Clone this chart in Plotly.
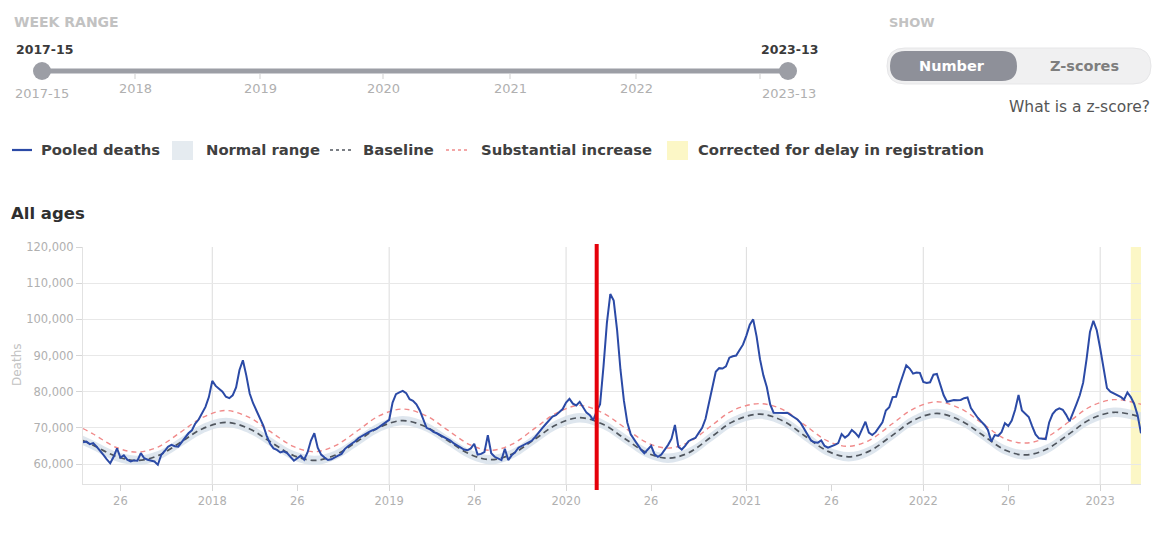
import datetime as dt
import plotly.graph_objects as go

# ------------------------------------------------------------------ data
# Pooled weekly deaths (all ages), ISO weeks 2017-15 .. 2023-13
deaths_2017 = [66000, 66200, 65500, 65800, 64800, 63800, 62500, 61300, 60200, 62000,
               64300, 61800, 62400, 61200, 60700, 61000, 60900, 63000, 61600, 61200,
               61000, 60700, 59800, 62500, 63600, 64800, 65300, 64900, 64800, 66000,
               67200, 68500, 69300, 71200, 72300, 74000, 75800, 78500]
deaths_2018 = [83000, 81600, 80700, 80000, 78600, 78200, 79000, 81200, 86000, 88700,
               84500, 79500, 76800, 74800, 72500, 70600, 67800, 65600, 64300, 63900,
               63200, 63500, 63000, 61800, 60900, 61600, 62300, 61200, 63200, 66500,
               68500, 64500, 62600, 61800, 61100, 61300, 61700, 62300, 62800, 64200,
               65000, 65600, 66300, 67200, 67800, 68400, 68800, 69300, 69600, 70200,
               70800, 71500]
deaths_2019 = [72200, 77000, 79300, 79800, 80200, 79600, 77900, 77500, 76500, 74800,
               72200, 70000, 69600, 68900, 68500, 68000, 67600, 67200, 66500, 65700,
               65100, 64500, 64000, 63800, 64300, 65600, 62600, 62800, 63300, 68000,
               63000, 62000, 61600, 61100, 64200, 61100, 62400, 63200, 64500, 65000,
               65600, 66000, 66500, 67600, 68600, 69900, 71000, 72000, 73100, 73500,
               74300, 75200]
deaths_2020 = [77000, 78000, 76700, 76200, 77200, 75500, 74200, 73500, 72100, 74600,
               76500, 87000, 99000, 107000, 105200, 97000, 86000, 77500, 71500, 68200,
               66800, 65200, 64000, 63000, 64000, 65000, 62700, 62000, 62600, 63900,
               65300, 67000, 70800, 64800, 64000, 65000, 66300, 66800, 67200, 68600,
               70000, 72500, 77000, 82000, 85500, 86500, 86400, 87000, 89400, 89800,
               90000, 91500, 93000]
deaths_2021 = [95500, 98500, 100000, 95300, 89000, 84500, 81300, 76500, 74200, 74100,
               74000, 74100, 74200, 73600, 73000, 72300, 71300, 69800, 68300, 66500,
               66000, 65900, 66500, 65000, 64500, 64800, 65300, 65800, 68300, 67300,
               68000, 69400, 68600, 67500, 69500, 71700, 68700, 68000, 68800, 70000,
               71500, 74800, 75700, 78500, 78600, 81700, 84500, 87300, 86400, 85000,
               85300, 85200]
deaths_2022 = [82700, 82400, 82600, 84700, 84900, 81600, 79000, 77200, 77500, 77700,
               77600, 77700, 78200, 78400, 75500, 74000, 72800, 71800, 70800, 69400,
               66200, 68000, 67800, 68800, 71300, 70500, 72000, 75000, 79100, 74800,
               74000, 73000, 70500, 68200, 67100, 67000, 66900, 71500, 73800, 74900,
               75400, 75000, 73600, 71800, 74000, 76500, 79000, 82500, 89000, 96500,
               99600, 97000]
deaths_2023 = [92000, 86500, 81000, 80000, 79500, 79200, 78600, 77800, 79800, 78500,
               76600, 73500, 68500]
first_week = {2017: 15, 2018: 1, 2019: 1, 2020: 1, 2021: 1, 2022: 1, 2023: 1}

# Baseline, normal range and "substantial increase" threshold (read at sample weeks)
base_weeks = ["2017-15", "2017-18", "2017-25", "2017-31", "2017-37", "2017-44", "2017-50",
              "2018-05", "2018-12", "2018-18", "2018-25", "2018-31", "2018-37", "2018-44", "2018-50",
              "2019-05", "2019-12", "2019-18", "2019-25", "2019-31", "2019-37", "2019-44", "2019-50",
              "2020-05", "2020-12", "2020-18", "2020-25", "2020-31", "2020-37", "2020-44", "2020-50",
              "2021-05", "2021-12", "2021-18", "2021-25", "2021-31", "2021-37", "2021-44", "2021-50",
              "2022-05", "2022-12", "2022-18", "2022-25", "2022-31", "2022-37", "2022-44", "2022-50",
              "2023-05", "2023-13"]
baseline = [66500, 65200, 62000, 61000, 62300, 66200, 69700,
            71500, 69700, 66200, 62300, 61000, 62400, 66500, 70100,
            72000, 70200, 66600, 62600, 61200, 62700, 67000, 70800,
            72800, 70900, 67200, 63000, 61600, 63100, 67700, 71700,
            73800, 71800, 67900, 63500, 62000, 63500, 68000, 72000,
            74000, 72000, 68300, 63900, 62500, 64000, 68400, 72300,
            74300, 73000]
normal_low = [65200, 63900, 60700, 59700, 61000, 64900, 68400,
              70200, 68400, 64900, 61000, 59700, 61100, 65200, 68800,
              70700, 68900, 65300, 61300, 59900, 61400, 65700, 69500,
              71500, 69600, 65900, 61700, 60300, 61800, 66400, 70400,
              72500, 70500, 66600, 62200, 60700, 62200, 66700, 70700,
              72700, 70700, 67000, 62600, 61200, 62700, 67100, 71000,
              73000, 71700]
normal_high = [67800, 66500, 63300, 62300, 63600, 67500, 71000,
               72800, 71000, 67500, 63600, 62300, 63700, 67800, 71400,
               73300, 71500, 67900, 63900, 62500, 64000, 68300, 72100,
               74100, 72200, 68500, 64300, 62900, 64400, 69000, 73000,
               75100, 73100, 69200, 64800, 63300, 64800, 69300, 73300,
               75300, 73300, 69600, 65200, 63800, 65300, 69700, 73600,
               75600, 74300]
substantial = [69800, 68300, 64500, 63300, 64700, 69000, 72800,
               74800, 72800, 69000, 64800, 63400, 65000, 69400, 73300,
               75200, 73300, 69500, 65200, 63800, 65400, 70000, 74000,
               76200, 74000, 70200, 65800, 64400, 66000, 70800, 74800,
               76700, 74900, 70900, 66300, 64900, 66500, 71200, 75200,
               77200, 75300, 71500, 67000, 65800, 67300, 71800, 75800,
               77800, 76500]

corrected_weeks = ["2023-10", "2023-13"]   # corrected for delay in registration
marker_week = "2020-10"                     # red vertical marker
range_weeks = ["2017-15", "2023-13"]

tick_weeks = ["2017-26", "2018-01", "2018-26", "2019-01", "2019-26", "2020-01",
              "2020-26", "2021-01", "2021-26", "2022-01", "2022-26", "2023-01"]
tick_text = ["26", "2018", "26", "2019", "26", "2020", "26", "2021", "26", "2022", "26", "2023"]
year_grid_weeks = ["2018-01", "2019-01", "2020-01", "2021-01", "2022-01", "2023-01"]
y_ticks = [60000, 70000, 80000, 90000, 100000, 110000, 120000]

slider_years = ["2018", "2019", "2020", "2021", "2022"]


def iso(label):
    y, w = label.split("-")
    return dt.date.fromisocalendar(int(y), int(w), 1).isoformat()


week_labels, deaths = [], []
for yr, vals in [(2017, deaths_2017), (2018, deaths_2018), (2019, deaths_2019),
                 (2020, deaths_2020), (2021, deaths_2021), (2022, deaths_2022),
                 (2023, deaths_2023)]:
    for i, v in enumerate(vals):
        week_labels.append(f"{yr}-{first_week[yr] + i:02d}")
        deaths.append(v)

x_deaths = [iso(w) for w in week_labels]
x_base = [iso(w) for w in base_weeks]

# ------------------------------------------------------------------ style
BLUE = "#2b4aa6"
UI_FONT = "DejaVu Sans"
AX_FONT = "DejaVu Sans"
W, H = 1154, 542
L, T, PW, PH = 83, 247, 1058, 237


def fx(x):
    return (x - L) / PW


def fy(y):
    return (T + PH - y) / PH


shapes, annots = [], []


def text(x, y, s, size, color, weight=400, xanchor="left", family=UI_FONT):
    annots.append(dict(x=fx(x), y=fy(y), xref="paper", yref="paper", text=s,
                       showarrow=False, xanchor=xanchor, yanchor="middle",
                       font=dict(size=size, color=color, family=family, weight=weight)))


def line(x0, y0, x1, y1, color, width, dash="solid"):
    shapes.append(dict(type="line", xref="paper", yref="paper", x0=fx(x0), x1=fx(x1),
                       y0=fy(y0), y1=fy(y1), line=dict(color=color, width=width, dash=dash)))


def rect(x0, y0, x1, y1, fill):
    shapes.append(dict(type="rect", xref="paper", yref="paper", x0=fx(x0), x1=fx(x1),
                       y0=fy(y0), y1=fy(y1), fillcolor=fill, line=dict(width=0)))


def circle(cx, cy, r, fill):
    shapes.append(dict(type="circle", xref="paper", yref="paper", x0=fx(cx - r), x1=fx(cx + r),
                       y0=fy(cy + r), y1=fy(cy - r), fillcolor=fill, line=dict(width=0)))


def rrect(x0, y0, x1, y1, r, fill, lc=None):
    def p(x, y):
        return f"{fx(x):.6f},{fy(y):.6f}"
    path = (f"M{p(x0 + r, y0)} L{p(x1 - r, y0)} Q{p(x1, y0)} {p(x1, y0 + r)} "
            f"L{p(x1, y1 - r)} Q{p(x1, y1)} {p(x1 - r, y1)} L{p(x0 + r, y1)} "
            f"Q{p(x0, y1)} {p(x0, y1 - r)} L{p(x0, y0 + r)} Q{p(x0, y0)} {p(x0 + r, y0)} Z")
    shapes.append(dict(type="path", xref="paper", yref="paper", path=path, fillcolor=fill,
                       line=dict(width=1 if lc else 0, color=lc or fill)))


# ------------------------------------------------------------------ traces
fig = go.Figure()
fig.add_trace(go.Scatter(x=x_base, y=normal_low, mode="lines", line=dict(width=0, shape="spline"),
                         hoverinfo="skip", showlegend=False))
fig.add_trace(go.Scatter(x=x_base, y=normal_high, mode="lines", line=dict(width=0, shape="spline"),
                         fill="tonexty", fillcolor="rgba(214,224,234,0.8)", name="Normal range",
                         showlegend=False))
fig.add_trace(go.Scatter(x=x_base, y=substantial, mode="lines", name="Substantial increase",
                         line=dict(color="#f08a8a", width=1.4, dash="5px,4px", shape="spline"),
                         showlegend=False))
fig.add_trace(go.Scatter(x=x_base, y=baseline, mode="lines", name="Baseline",
                         line=dict(color="#50565e", width=1.7, dash="6px,4px", shape="spline"),
                         showlegend=False))
fig.add_trace(go.Scatter(x=x_deaths, y=deaths, mode="lines", name="Pooled deaths",
                         line=dict(color=BLUE, width=2), showlegend=False))

# plot-area shapes
shapes.append(dict(type="rect", xref="x", yref="paper", x0=iso(corrected_weeks[0]),
                   x1=iso(corrected_weeks[1]), y0=0, y1=1, fillcolor="#fcf7c6",
                   line=dict(width=0), layer="below"))
for w in year_grid_weeks:
    shapes.append(dict(type="line", xref="x", yref="paper", x0=iso(w), x1=iso(w), y0=0, y1=1,
                       line=dict(color="#dcdcdc", width=1), layer="below"))
shapes.append(dict(type="line", xref="x", yref="paper", x0=iso(marker_week), x1=iso(marker_week),
                   y0=fy(490), y1=fy(244), line=dict(color="#e5000a", width=4), layer="above"))

# ------------------------------------------------------------------ UI decorations
GREY_LBL = "#c2c2c2"
TXT = "#404040"
# Week range slider
text(12, 22, "WEEK RANGE", 14, GREY_LBL, 700)
text(44.5, 50, "2017-15", 12.5, "#3a3a3a", 700, "center")
text(789, 50, "2023-13", 12.5, "#3a3a3a", 700, "center")
line(42, 71, 788, 71, "#9c9ea5", 5)
circle(42, 71, 9, "#9c9ea5")
circle(788, 71, 9, "#9c9ea5")
for xt in [135, 260, 383, 510, 636, 760]:
    line(xt, 74, xt, 79, "#cfcfcf", 1)
for xt, lab in zip([135, 260, 383, 510, 636], slider_years):
    text(xt, 89, lab, 13, "#b0b0b0", 400, "center")
text(42, 94, range_weeks[0], 13, "#b0b0b0", 400, "center")
text(789, 94, range_weeks[1], 13, "#b0b0b0", 400, "center")

# Show toggle
text(887, 22, "SHOW", 13, GREY_LBL, 700)
rrect(887, 48, 1151, 84, 18, "#f0f0f1", "#e6e6e8")
rrect(890, 51, 1017, 81, 15, "#8e9099")
text(952, 66, "Number", 14.5, "#ffffff", 700, "center")
text(1084, 66, "Z-scores", 14.5, "#7e7e7e", 700, "center")
text(1152, 107, "What is a z-score?", 15.5, "#555555", 400, "right")

# Legend
LY = 150
LF = 14.8
line(12, LY, 32, LY, BLUE, 2.2)
text(39, LY, "Pooled deaths", LF, TXT, 700)
rect(172, 141, 193, 160, "#e5ebf0")
text(204, LY, "Normal range", LF, TXT, 700)
line(330, LY, 353, LY, "#50565e", 1.3, "dot")
text(361, LY, "Baseline", LF, TXT, 700)
line(446, LY, 470, LY, "#f08a8a", 1.3, "dot")
text(479, LY, "Substantial increase", LF, TXT, 700)
rect(667, 141, 688, 160, "#fcf7c6")
text(696, LY, "Corrected for delay in registration", LF, TXT, 700)

# Chart title & y title
text(9, 214, "All ages", 16.5, "#2f2f2f", 700)
annots.append(dict(x=fx(17), y=fy(365), xref="paper", yref="paper", text="Deaths",
                   showarrow=False, textangle=-90, xanchor="center", yanchor="middle",
                   font=dict(size=12, color="#c2c2c2", family=AX_FONT)))

# ------------------------------------------------------------------ layout
fig.update_layout(
    width=W, height=H, autosize=False,
    margin=dict(l=L, r=W - L - PW, t=T, b=H - T - PH, pad=0),
    paper_bgcolor="white", plot_bgcolor="white",
    font=dict(family=AX_FONT, color="#aaaaaa"),
    showlegend=False,
    shapes=shapes, annotations=annots,
    xaxis=dict(type="date", range=[iso(range_weeks[0]), iso(range_weeks[1])],
               tickmode="array", tickvals=[iso(w) for w in tick_weeks], ticktext=tick_text,
               showgrid=False, zeroline=False, showline=True, linecolor="#e2e2e2", linewidth=1,
               ticks="outside", ticklen=6, tickcolor="#d6d6d6",
               tickfont=dict(size=11.5, color="#b0b0b0", family=AX_FONT)),
    yaxis=dict(range=[54475, 120000], tickmode="array", tickvals=y_ticks, tickformat=",",
               showgrid=True, gridcolor="#e8e8e8", gridwidth=1, zeroline=False,
               showline=True, linecolor="#e2e2e2", linewidth=1,
               ticks="outside", ticklen=6, tickcolor="#d6d6d6",
               tickfont=dict(size=11.5, color="#b0b0b0", family=AX_FONT)),
)

fig.write_html("out.html", config={"displayModeBar": False},
               post_script="document.body.style.margin='0';document.body.style.overflow='hidden';")
